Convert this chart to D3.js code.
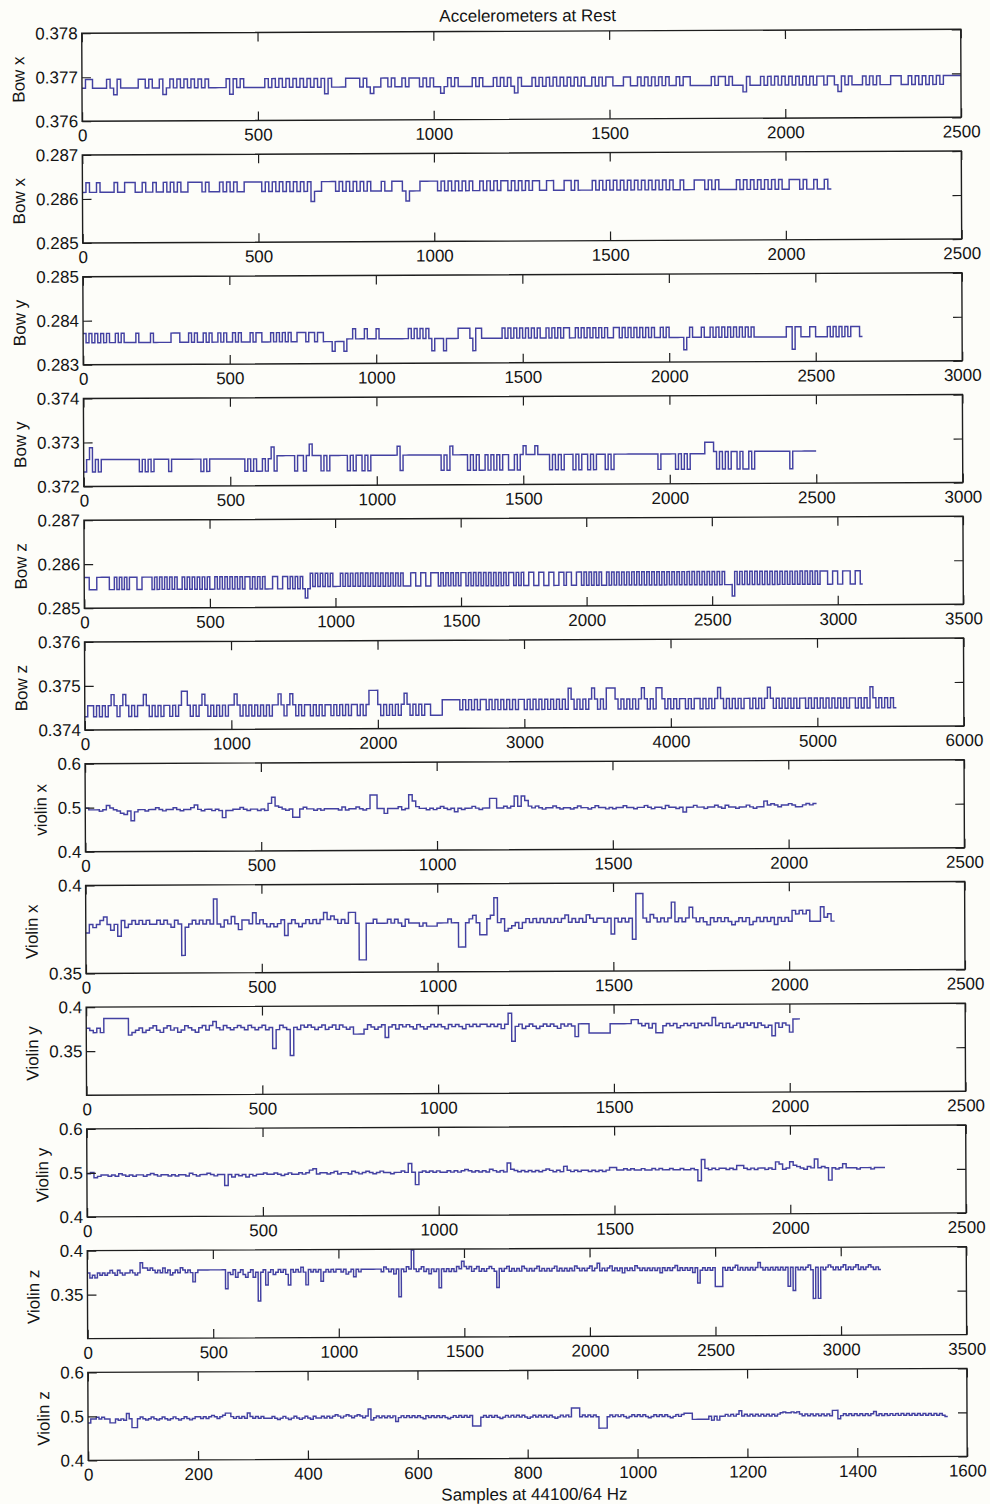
<!DOCTYPE html>
<html>
<head>
<meta charset="utf-8">
<script src="https://cdn.jsdelivr.net/npm/d3@7"></script>
<style>
  html, body { margin: 0; padding: 0; background: #fdfdf9; }
  svg { display: block; }
</style>
</head>
<body>
<svg id="fig" width="990" height="1504"></svg>
<script>
// ---------------------------------------------------------------
// Accelerometer readings at rest, twelve channels.
// Each channel: quantisation levels + a code string (one character
// per equal block of samples, indexing into the levels array).
// ---------------------------------------------------------------
const figureTitle = "Accelerometers at Rest";
const xAxisTitle = "Samples at 44100/64 Hz";

const panelLabels = ["Bow x", "Bow x", "Bow y", "Bow y", "Bow z", "Bow z",
                     "violin x", "Violin x", "Violin y", "Violin y", "Violin z", "Violin z"];
const xMaxes      = [2500, 2500, 3000, 3000, 3500, 6000, 2500, 2500, 2500, 2500, 3500, 1600];
const xTickSteps  = [500, 500, 500, 500, 500, 1000, 500, 500, 500, 500, 500, 200];
const yDomains    = [[0.376, 0.378], [0.285, 0.287], [0.283, 0.285], [0.372, 0.374],
                     [0.285, 0.287], [0.374, 0.376], [0.4, 0.6], [0.35, 0.4],
                     [0.3, 0.4], [0.4, 0.6], [0.3, 0.4], [0.4, 0.6]];
const yTickValues = [[0.376, 0.377, 0.378], [0.285, 0.286, 0.287], [0.283, 0.284, 0.285],
                     [0.372, 0.373, 0.374], [0.285, 0.286, 0.287], [0.374, 0.375, 0.376],
                     [0.4, 0.5, 0.6], [0.35, 0.4], [0.35, 0.4], [0.4, 0.5, 0.6],
                     [0.35, 0.4], [0.4, 0.5, 0.6]];
const sampleCounts = [2500, 2130, 2660, 2500, 3100, 5540, 2080, 2130, 2030, 2270, 3160, 1565];

// Bow x (first take)
const bowX1Levels = [0.37660, 0.37675, 0.37695];
const bowX1Codes =
  "1221111" + "21021" + "1111" + "2212" + "11" + "201" + "21212121212" + "11111" + "202" +
  "12" + "111111" + "21212121212121212021" + "111" + "2222" + "121011" + "22" + "12112122" +
  "21212" + "1101" + "2121" + "111" + "2121" + "11" + "212121" + "0" + "2" + "111" +
  "212121212121212" + "11" + "2121" + "221112211" + "2121212" + "1" + "21121221" + "11111" +
  "212212" + "111" + "02" + "111" + "21212121212121212" + "21221" + "0" + "212" + "111" +
  "212121" + "11" + "2221" + "1" + "21212121" + "212" + "2222";

// Bow x (second take)
const bowX2Levels = [0.28592, 0.28615, 0.28637];
const bowX2Codes =
  "12" + "11" + "21" + "111" + "2" + "11" + "2221" + "1" + "2" + "11" + "2" + "11" + "21212" +
  "11" + "2222" + "1" + "21" + "11" + "212121" + "1" + "2222" + "21212121" + "21212" + "1" +
  "20" + "11" + "22221" + "212" + "1" + "21212" + "111" + "21" + "1" + "2221" + "0" + "111" +
  "2222" + "21212121212" + "11" + "2121212" + "212121212" + "2112211" + "1" + "22121" + "111" +
  "212121" + "21212121212121" + "2121" + "1" + "211122" + "212121" + "1111" + "2121212121" +
  "212" + "11" + "222" + "1" + "21121121";

// Bow y (first take)
const bowY1Levels = [0.28328, 0.28350, 0.28371, 0.28356, 0.28379];
const bowY1Codes =
  "212121212112121" + "111" + "2" + "1111" + "2" + "111111" + "2221" + "11" +
  "212112121121211212" + "111" + "2122111" + "212121211" + "2221221221" + "11" + "0" + "111" +
  "0" + "3" + "3433343334" + "3333333333" + "4343434303" + "330" + "3333" + "44443044" +
  "3333333" + "43434343" + "43434334343434433434343434343344343434343434334343" + "3333" +
  "0" + "34333433" + "4343434343434343" + "3333333333" + "44044" + "333" + "44" + "3333" +
  "43434343" + "4443";

// Bow y (second take)
const bowY2Levels = [0.37233, 0.37261, 0.37268, 0.37273, 0.37288, 0.37294];
const bowY2Codes =
  "014010" + "1111111111111" + "010101" + "1111" + "0" + "1111111111" + "010" +
  "111111111111" + "01010010" + "1" + "4" + "0" + "222222" + "0" + "2" + "2" + "0" + "2" +
  "5" + "222" + "0" + "2" + "0" + "222222" + "02022020" + "222222222" + "40" +
  "2222222222222" + "0204" + "22222" + "020200202020220020" + "2" + "4" + "222" + "4" +
  "2222" + "0202022202022020222020" + "222222222222222" + "0" + "22222" + "02020" + "22222" +
  "555" + "3" + "030303303003033" + "3333333333" + "0" + "33333333";

// Bow z (first take)
const bowZ1Levels = [0.28521, 0.28542, 0.28570, 0.28547, 0.28577];
const bowZ1Codes =
  "22111222221" + "1" + "21212" + "1" + "222112222" + "1" + "2121212121121212121212" + "11" +
  "212121212121221212121" + "11" + "2211221" + "212121" + "0" + "1" + "4343434343" + "33" +
  "43434343434343434343434343" + "33" + "4433443344" + "434343434344343434343434343434434343" +
  "3443344" + "33" + "4433443" + "4433443434343433" +
  "434343434343434343434343434343434343434343434343" + "330" +
  "43434343434343434343434343434343434" + "4433443344" + "433443";

// Bow z (second take)
const bowZ2Levels = [0.37430, 0.37455, 0.37480, 0.37487, 0.37442, 0.37465, 0.37490];
const bowZ2Codes =
  "011" + "010101" + "2" + "101" + "2" + "101011" + "2" + "1010101" + "10101" + "33" + "10101" +
  "2" + "1010101011" + "2" + "10101010101011" + "2" + "101" + "2" + "10101101010110101010110101" +
  "333" + "101010101" + "2" + "10101011" + "0000" + "55555" +
  "54545454554545454545455454545454545454" + "6" + "5454545" + "6" + "5454" + "666" +
  "545454545" + "6" + "5454" + "66" + "5454545545455454545" + "6" + "5454545455454545" + "6" +
  "5454545454554545454545454545545454" + "6" + "54545454";

// violin x (first take)
const violinX1Levels = [0.470, 0.476, 0.480, 0.484, 0.487, 0.490, 0.492, 0.495,
                        0.499, 0.502, 0.505, 0.508, 0.512, 0.517, 0.522, 0.526];
const violinX1Codes =
  "877767" + "a" + "876" + "436" + "0" + "57" + "76778767" + "787677" + "8a76" + "77676" + "1" +
  "667787677676" + "b" + "e" + "98767" + "11" + "787767677" + "77686778767" + "ff" + "7" + "737" +
  "77867" + "f" + "c" + "877676" + "78767" + "4" + "767787677" + "dd" + "77878" + "e8ec" +
  "8787677876" + "77678776787767" + "67787767787677687767" + "3" +
  "7787767787687767787677" + "b" + "89878898778989";

// Violin x (second take)
const violinX2Levels = [0.357, 0.360, 0.364, 0.368, 0.371, 0.373, 0.3745, 0.3760,
                        0.3778, 0.3800, 0.3820, 0.3840, 0.386, 0.389, 0.392, 0.394];
const violinX2Codes =
  "58789" + "a" + "868" + "4" + "97" + "89898988" + "9898798" + "1" + "78989898" + "e" +
  "8798a86998" + "b" + "89878789" + "4" + "8987898989" + "b" + "9a9898" + "bb" + "8" + "00" +
  "8" + "89888989879888" + "787778" + "88988" + "22" + "8" + "9a8" + "44" + "9" + "a" + "e" +
  "89" + "56786" + "89898989" + "8989a89898a989989" + "4" + "98989" + "3" + "ff" + "98a98989" +
  "d" + "8989" + "c" + "9898798989878989789898979898" + "babab8" + "88" + "c" + "9a8";

// Violin y (first take)
const violinY1Levels = [0.344, 0.352, 0.359, 0.364, 0.368, 0.371, 0.371, 0.3735,
                        0.376, 0.3785, 0.381, 0.383, 0.385, 0.387, 0.391];
const violinY1Codes =
  "87686" + "ddddddd" + "4" + "5" + "7867897689786798768979" + "b" + "8798789879878978" + "1" +
  "7987" + "0" + "87989878978979878" + "444" + "798789" + "3" +
  "8979898798789898798987989899898979" + "e" + "2" + "89789878989879898" + "3" + "999" +
  "444444" + "999999" + "bb" + "98979" + "44" + "89897898979898" + "c" + "8979789798979878" +
  "3" + "9798" + "4" + "bb";

// Violin y (second take)
const violinY2Levels = [0.470, 0.476, 0.482, 0.486, 0.489, 0.490, 0.492, 0.495,
                        0.498, 0.501, 0.504, 0.507, 0.510, 0.513, 0.518, 0.524];
const violinY2Codes =
  "89" + "4" + "67767687" + "676776787677676" + "7768767787677" + "0" + "74767" + "4767" +
  "78778767877878" + "ab" + "78878978879878987898878898" + "e" + "8" + "0" +
  "8989898898989a989898a9898" + "e" + "a989898989a9898" + "c" + "989899898989" + "bb" +
  "99a9a99a99a9a99a99a99a9" + "1" + "f" + "a9a9aa9a9cca9a9aa9a9" + "ed" + "9a" + "ecb" +
  "a9ba" + "f" + "aba" + "1" + "a9a" + "d" + "aaa9aaa9aaa";

// Violin z (first take)
const violinZ1Levels = [0.342, 0.346, 0.351, 0.356, 0.360, 0.364, 0.367, 0.369,
                        0.372, 0.3745, 0.3775, 0.380, 0.383, 0.386, 0.390, 0.399];
const violinZ1Codes =
  "978" + "7" + "98989a98a9899a989" + "d" + "bbaba" + "9a9b9a89a9ba9a9" + "5" + "9aaaaaaaaaaa" +
  "3" + "98a79a879a79" + "0" + "9a" + "4" + "9a89a9a8" + "4" + "a9a9b9" + "4" + "a9a9a" + "5" +
  "9a9a9a" + "a9a89a7a9" + "aaaaaaaa9" + "b" + "a9a8a" + "1" + "a9ba" + "f" + "a9ab9a8a9a" +
  "3" + "a9a9a9ba" + "d" + "bab9ab9a9aba9" + "3" + "a9ab9a9a9ba9a9ab9a9a9ab9a9a9a9ba9a9ab9a" +
  "c" + "9a9ab9a9a8a9a9ba9a9a9a9a8a9a9ab9a9a9a8a" + "4" + "9a9a9a" + "333" +
  "a9a9ab9a9a9a9a" + "c" + "a9a9a9a9a9a" + "3a2a9" + "a9ab9" + "0a0a9" +
  "aba9a9ab9a9ab9a9aba9a9";

// Violin z (second take)
const violinZ2Levels = [0.468, 0.474, 0.480, 0.485, 0.487, 0.489, 0.491, 0.494,
                        0.498, 0.501, 0.503, 0.506, 0.509, 0.514];
const violinZ2Codes =
  "37" + "787877" + "33" + "7676" + "b" + "7" + "11" + "7876787678767876787678" + "8787898789b" +
  "b" + "878787" + "b" + "8787877" + "787678767876787687" + "787878987898789878" + "d" + "5" +
  "78787878" + "3" + "787878787687878787678787878" + "111" +
  "787878767878787876787878787678787" + "ddd" + "7878787" + "000" +
  "7878787678787876787878767878" + "999" + "444444" + "73737" + "787878" + "b" +
  "78787878787878" + "9a99a9a" + "878787878787" + "bb" + "4" + "787878787878" + "a" +
  "78787878787878787878787876";

const seriesLevels = [bowX1Levels, bowX2Levels, bowY1Levels, bowY2Levels, bowZ1Levels, bowZ2Levels,
                      violinX1Levels, violinX2Levels, violinY1Levels, violinY2Levels,
                      violinZ1Levels, violinZ2Levels];
const seriesCodes  = [bowX1Codes, bowX2Codes, bowY1Codes, bowY2Codes, bowZ1Codes, bowZ2Codes,
                      violinX1Codes, violinX2Codes, violinY1Codes, violinY2Codes,
                      violinZ1Codes, violinZ2Codes];

// ---------------------------------------------------------------
// Layout and drawing
// ---------------------------------------------------------------
const LEFT = 85, RIGHT = 964, TOP0 = 31.4, PITCH = 121.74, H = 88, TICK = 9;
const FONT = '"Liberation Sans", Arial, Helvetica, sans-serif';
const FONT_SIZE = 17;
const LINE_COLOR = "#4341a2";
const INK = "#141414";
const KEYS = "0123456789abcdef";

function decode(levels, codes, n) {
  const step = n / codes.length;
  const pts = Array.from(codes, (c, i) => [i * step, levels[KEYS.indexOf(c)]]);
  pts.push([n, pts[pts.length - 1][1]]);
  return pts;
}

const panels = panelLabels.map((label, i) => ({
  label,
  xMax: xMaxes[i],
  xStep: xTickSteps[i],
  yDomain: yDomains[i],
  yTicks: yTickValues[i],
  points: decode(seriesLevels[i], seriesCodes[i], sampleCounts[i])
}));

const svg = d3.select("#fig");
svg.append("rect").attr("width", 990).attr("height", 1504).attr("fill", "#fdfdf9");

// the whole sheet sits very slightly askew
const sheet = svg.append("g")
  .attr("transform", "rotate(-0.26 495 752)")
  .attr("font-family", FONT);

sheet.append("text")
  .attr("x", 531).attr("y", 21.6)
  .attr("text-anchor", "middle")
  .attr("font-size", FONT_SIZE)
  .attr("fill", INK)
  .text(figureTitle);

function styleAxis(a) {
  a.select(".domain").remove();
  a.attr("font-size", FONT_SIZE).attr("font-family", FONT);
  a.selectAll("line").attr("stroke", "#1e1e1e").attr("stroke-width", 1.2);
  a.selectAll("text").attr("fill", INK);
}

panels.forEach((p, i) => {
  const top = TOP0 + i * PITCH;
  const bottom = top + H;
  const x = d3.scaleLinear().domain([0, p.xMax]).range([LEFT, RIGHT]);
  const y = d3.scaleLinear().domain(p.yDomain).range([bottom, top]);
  const xt = d3.range(0, p.xMax + 1, p.xStep);
  const g = sheet.append("g");

  const line = d3.line()
    .x(d => x(d[0]))
    .y(d => y(d[1]))
    .curve(d3.curveStepAfter);

  g.append("path")
    .datum(p.points)
    .attr("fill", "none")
    .attr("stroke", LINE_COLOR)
    .attr("stroke-width", 1.45)
    .attr("d", line);

  g.append("g").attr("transform", `translate(0,${bottom})`)
    .call(d3.axisBottom(x).tickValues(xt).tickSize(-TICK).tickPadding(8).tickFormat(d3.format("d")))
    .call(styleAxis);
  g.append("g").attr("transform", `translate(0,${top})`)
    .call(d3.axisTop(x).tickValues(xt).tickSize(-TICK).tickFormat(""))
    .call(styleAxis);
  const leftAxis = g.append("g").attr("transform", `translate(${LEFT},0)`)
    .call(d3.axisLeft(y).tickValues(p.yTicks).tickSize(-TICK).tickPadding(4).tickFormat(v => String(v)))
    .call(styleAxis);
  g.append("g").attr("transform", `translate(${RIGHT},0)`)
    .call(d3.axisRight(y).tickValues(p.yTicks).tickSize(-TICK).tickFormat(""))
    .call(styleAxis);

  g.append("rect")
    .attr("x", LEFT).attr("y", top)
    .attr("width", RIGHT - LEFT).attr("height", H)
    .attr("fill", "none")
    .attr("stroke", "#1e1e1e")
    .attr("stroke-width", 1.4);

  let maxW = 0;
  leftAxis.selectAll("text").each(function () {
    maxW = Math.max(maxW, this.getComputedTextLength());
  });
  const cx = LEFT - 4 - maxW - 17;
  g.append("text")
    .attr("transform", `translate(${cx + 6},${top + H / 2 + 2}) rotate(-90)`)
    .attr("text-anchor", "middle")
    .attr("font-size", FONT_SIZE)
    .attr("fill", INK)
    .text(p.label);
});

sheet.append("text")
  .attr("x", 531).attr("y", 1500.2)
  .attr("text-anchor", "middle")
  .attr("font-size", FONT_SIZE)
  .attr("fill", INK)
  .text(xAxisTitle);
</script>
</body>
</html>
